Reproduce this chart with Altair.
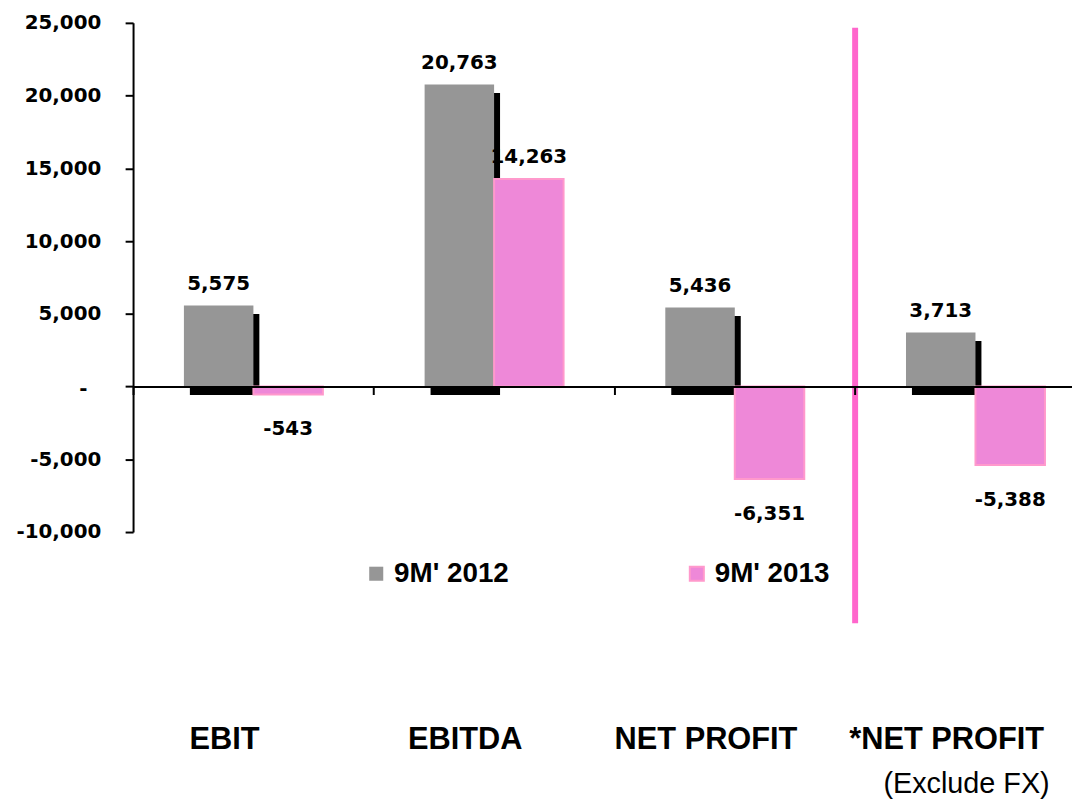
import altair as alt
import pandas as pd

# ---- data ----
categories = ["EBIT", "EBITDA", "NET PROFIT", "*NET PROFIT"]
series = ["9M' 2012", "9M' 2013"]
values_2012 = [5575, 20763, 5436, 3713]
values_2013 = [-543, 14263, -6351, -5388]
y_ticks = [-10000, -5000, 0, 5000, 10000, 15000, 20000, 25000]
zero_label = ["-"]
note_category = ["*NET PROFIT"]
note_text = ["(Exclude FX)"]
divider_category = ["*NET PROFIT"]

rows = []
for c, a, b in zip(categories, values_2012, values_2013):
    rows.append({"cat": c, "series": series[0], "value": a})
    rows.append({"cat": c, "series": series[1], "value": b})
df = pd.DataFrame(rows)

# ---- styling ----
GRAY = "#969696"
PINK = "#EE88D8"
PINK_EDGE = "#FF99CC"
LINE_PINK = "#FF66CC"
NUM_FONT = "DejaVu Sans"
TXT_FONT = "Liberation Sans"

Y_MIN, Y_MAX = -10000, 25000
W, H = 946, 513
X_RANGE = 970
zero_offset = H * (0 - Y_MIN) / (Y_MAX - Y_MIN)

x_scale = alt.Scale(domain=categories, range=[0, X_RANGE],
                    paddingInner=0, paddingOuter=0, round=False)
x_axis = alt.Axis(title=None, labels=False, bandPosition=0, tickSize=8,
                  tickWidth=2, tickColor="black", domainColor="black",
                  domainWidth=2, offset=-zero_offset, zindex=1, grid=False)
x_enc = alt.X("cat:N", scale=x_scale, axis=x_axis)
xoff_enc = alt.XOffset("series:N",
                       scale=alt.Scale(domain=series, paddingInner=0,
                                       paddingOuter=0.732, round=False))

y_scale = alt.Scale(domain=[Y_MIN, Y_MAX], nice=False)
label_expr = ("datum.value == 0 ? '' : "
              "(datum.value < 0 ? '-' : '') + format(abs(datum.value), ',')")
y_axis = alt.Axis(title=None, values=y_ticks, labelExpr=label_expr,
                  labelFont=NUM_FONT, labelFontWeight="bold", labelFontSize=20,
                  labelColor="black", labelPadding=24.5, tickSize=8,
                  tickWidth=2, tickColor="black", domainColor="black",
                  domainWidth=2, grid=False, zindex=1)
y_enc = alt.Y("value:Q", scale=y_scale, axis=y_axis)

legend = alt.Legend(orient="none", legendX=231, legendY=541,
                    direction="horizontal", title=None, symbolType="square",
                    symbolSize=200, symbolStrokeWidth=2, labelFont=TXT_FONT,
                    labelFontWeight="bold", labelFontSize=28,
                    labelColor="black", labelOffset=4, columnPadding=175,
                    padding=0)

base = alt.Chart(df).encode(x=x_enc, xOffset=xoff_enc)

# drop shadow behind the 2012 bars
shadow = alt.Chart(df).transform_filter(alt.datum.series == series[0]).mark_bar(
    color="black", width=alt.RelativeBandSize(70 / 242.5),
    xOffset=-29, yOffset=8.5, y2Offset=8.5
).encode(x=x_enc, y=y_enc)

bars = base.mark_bar(strokeWidth=2).encode(
    y=y_enc,
    fill=alt.Fill("series:N", scale=alt.Scale(domain=series, range=[GRAY, PINK]),
                  legend=legend),
    stroke=alt.Stroke("series:N",
                      scale=alt.Scale(domain=series, range=["transparent", PINK_EDGE]),
                      legend=legend),
)

lab_calc = "(datum.value < 0 ? '-' : '') + format(abs(datum.value), ',')"
labels_pos = base.transform_filter(alt.datum.value >= 0).transform_calculate(
    label=lab_calc
).mark_text(dy=-16, baseline="alphabetic", font=NUM_FONT, fontWeight="bold",
            fontSize=20, color="black").encode(y=y_enc, text="label:N")

labels_neg = base.transform_filter(alt.datum.value < 0).transform_calculate(
    label=lab_calc
).mark_text(dy=41, baseline="alphabetic", font=NUM_FONT, fontWeight="bold",
            fontSize=20, color="black").encode(y=y_enc, text="label:N")

zero_text = alt.Chart(pd.DataFrame({"value": [0], "txt": zero_label})).mark_text(
    align="right", baseline="middle", font=NUM_FONT, fontWeight="bold",
    fontSize=20, color="black", dy=2
).encode(x=alt.value(-46), y=y_enc, text="txt:N")

divider = alt.Chart(pd.DataFrame({"cat": divider_category})).mark_rule(
    color=LINE_PINK, strokeWidth=6
).encode(x=alt.X("cat:N", scale=x_scale, axis=x_axis, bandPosition=0),
         y=alt.value(5), y2=alt.value(605))

cat_text = alt.Chart(pd.DataFrame({"cat": categories})).mark_text(
    font=TXT_FONT, fontWeight="bold", fontSize=31, dx=-29,
    baseline="alphabetic", color="black"
).encode(x=x_enc, y=alt.value(731.7), text="cat:N")

note = alt.Chart(pd.DataFrame({"cat": note_category, "txt": note_text})).mark_text(
    font=TXT_FONT, fontSize=29, dx=-9, baseline="alphabetic", color="black"
).encode(x=x_enc, y=alt.value(776), text="txt:N")

chart = alt.layer(shadow, bars, labels_pos, labels_neg, zero_text, divider,
                  cat_text, note).properties(
    width=W, height=H,
    autosize=alt.AutoSizeParams(type="none"),
    padding={"left": 126, "top": 12, "right": 0, "bottom": 268},
).configure_view(stroke=None)

chart.save("out.html", embed_options={"renderer": "svg", "actions": False})
